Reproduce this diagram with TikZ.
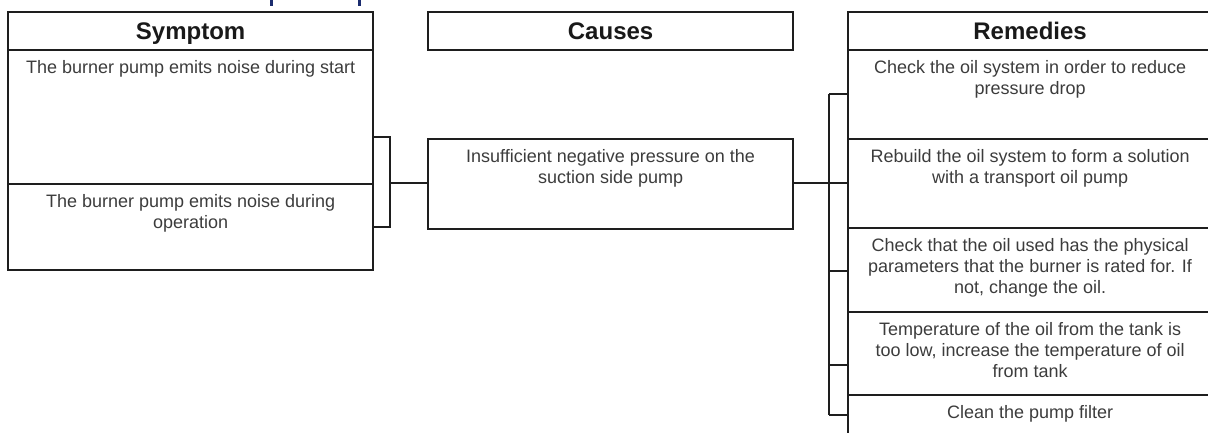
\documentclass[tikz,border=0pt]{standalone}
\usepackage{fontspec}
\setmainfont{Liberation Sans}
\definecolor{linec}{HTML}{1E1E1E}
\definecolor{txtc}{HTML}{3C3C3C}
\definecolor{navy}{HTML}{1B2C6E}
\begin{document}
\begin{tikzpicture}[x=1pt,y=-1pt,
  box/.style={draw=linec, line width=2.2pt, inner sep=0pt, anchor=north west, minimum width=365pt},
  rbox/.style={box, minimum width=364pt},
  hdr/.style={font=\fontsize{24}{28}\selectfont\bfseries, text=black!90, inner sep=0pt, anchor=base, yshift=11.5pt},
  txt/.style={font=\fontsize{18}{21}\selectfont, text=txtc, inner sep=0pt, anchor=north, align=center, yshift=-11.5pt},
  conn/.style={draw=linec, line width=2.2pt},
  frag/.style={fill=navy, draw=none}]
\useasboundingbox (0,0) rectangle (1208,433);
\clip (0,0) rectangle (1208,433);

% cut-off title fragments
\path[frag] (269.5,0) rectangle (273,6);
\path[frag] (357.5,0) rectangle (361,6);

% Symptom column
\node[box, minimum height=38pt] (symh) at (7,11) {};
\node[hdr] (symt) at (symh.south) {Symptom};
\node[box, minimum height=134pt] (sym1) at (7,49) {};
\node[txt] (sym1t) at (sym1.north) {The burner pump emits noise during start};
\node[box, minimum height=86pt] (sym2) at (7,183) {};
\node[txt] (sym2t) at (sym2.north) {The burner pump emits noise during\\operation};

% Causes column
\node[box, minimum height=38pt] (cauh) at (427,11) {};
\node[hdr] (caut) at (cauh.south) {Causes};
\node[box, minimum height=90pt] (cau) at (427,138) {};
\node[txt] (caut2) at (cau.north) {Insufficient negative pressure on the\\suction side pump};

% Remedies column
\node[rbox, minimum height=38pt] (remh) at (847,11) {};
\node[hdr] (remt) at (remh.south) {Remedies};
\node[rbox, minimum height=89pt] (r1) at (847,49) {};
\node[txt] (r1t) at (r1.north) {Check the oil system in order to reduce\\pressure drop};
\node[rbox, minimum height=89pt] (r2) at (847,138) {};
\node[txt] (r2t) at (r2.north) {Rebuild the oil system to form a solution\\with a transport oil pump};
\node[rbox, minimum height=84pt] (r3) at (847,227) {};
\node[txt] (r3t) at (r3.north) {Check that the oil used has the physical\\parameters that the burner is rated for. If\\not, change the oil.};
\node[rbox, minimum height=83pt] (r4) at (847,311) {};
\node[txt] (r4t) at (r4.north) {Temperature of the oil from the tank is\\too low, increase the temperature of oil\\from tank};
\node[rbox, minimum height=56pt] (r5) at (847,394) {};
\node[txt] (r5t) at (r5.north) {Clean the pump filter};

% Symptom bracket
\coordinate (sb1) at (390,137);
\coordinate (sb2) at (390,227);
\coordinate (sj) at (390,183);
\draw[conn] (sym1.east |- sb1) -- (sb1) -- (sb2) -- (sym2.east |- sb2);
\draw[conn] (sj) -- (cau.west |- sj);

% Remedies bracket
\coordinate (rt) at (829,94);
\coordinate (rm) at (829,183);
\coordinate (rk3) at (829,271);
\coordinate (rk4) at (829,365);
\coordinate (rb) at (829,415);
\draw[conn] (rt) -- (rb);
\draw[conn] (cau.east |- rm) -- (r2.west |- rm);
\draw[conn] (rt) -- (r1.west |- rt);
\draw[conn] (rk3) -- (r3.west |- rk3);
\draw[conn] (rk4) -- (r4.west |- rk4);
\draw[conn] (rb) -- (r5.west |- rb);
\end{tikzpicture}
\end{document}
